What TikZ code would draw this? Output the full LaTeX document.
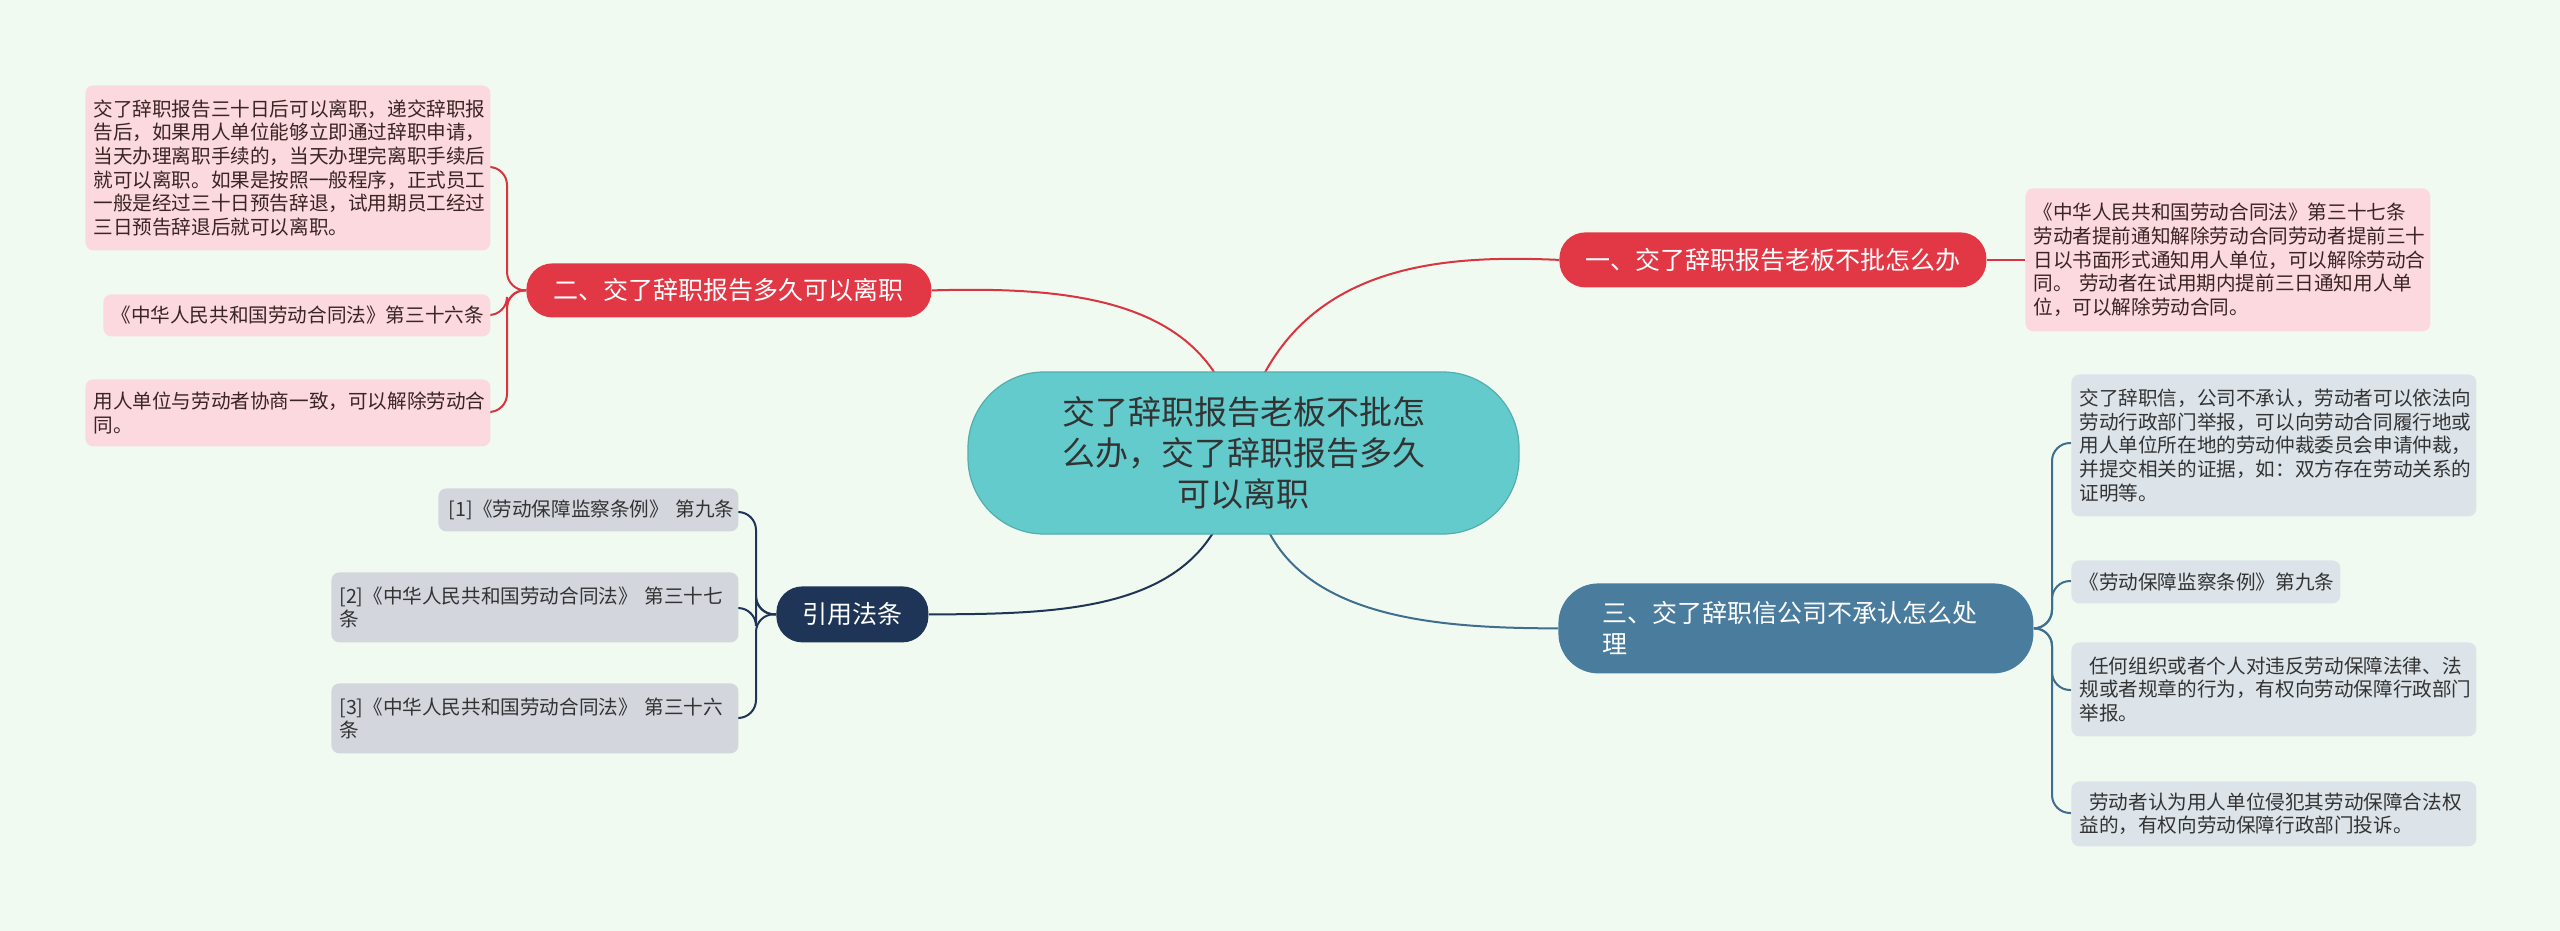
\documentclass[tikz,border=0pt]{standalone}
\usepackage{fontspec}
\setmainfont{Noto Sans CJK SC}
\usetikzlibrary{backgrounds}
\definecolor{bg}{HTML}{F1FAF0}
\definecolor{teal}{HTML}{63CBCC}
\definecolor{redb}{HTML}{E23744}
\definecolor{redl}{HTML}{D9343F}
\definecolor{pinkl}{HTML}{FBD9DE}
\definecolor{blueb}{HTML}{4A7C9E}
\definecolor{bluel}{HTML}{3F6E8F}
\definecolor{bluelf}{HTML}{DCE4EA}
\definecolor{navy}{HTML}{1E3557}
\definecolor{grayl}{HTML}{D3D7DD}
\definecolor{txt}{HTML}{333333}
\definecolor{ptxt}{HTML}{3A2424}
\tikzset{
 leaf/.style={anchor=north west,rounded corners=4pt,inner xsep=4pt,inner ysep=2pt,align=left,
   font=\fontsize{9.8}{11.8}\selectfont},
 pinkleaf/.style={leaf,fill=pinkl,text=ptxt},
 blueleaf/.style={leaf,fill=bluelf,text=txt},
 grayleaf/.style={leaf,fill=grayl,text=txt},
 branch/.style={anchor=north west,rounded corners=13pt,text=white,font=\fontsize{12.5}{15.5}\selectfont},
 conn/.style={line width=1pt},
}
\begin{document}
\begin{tikzpicture}[x=0.5pt,y=-0.5pt]
\useasboundingbox (0,0) rectangle (2560,931);
% nodes
\node[anchor=center,fill=teal,draw=teal!85!black,line width=0.6pt,rounded corners=38pt,minimum width=275.5pt,minimum height=81pt,align=center,font=\fontsize{16.5}{20.5}\selectfont,text=txt] (C) at (1243.5,453) {交了辞职报告老板不批怎\\么办，交了辞职报告多久\\可以离职};
\node[branch,fill=redb,minimum width=213.5pt,minimum height=27.5pt] (B1) at (1559,232) {一、交了辞职报告老板不批怎么办};
\node[branch,fill=redb,minimum width=202.5pt,minimum height=27pt] (B2) at (526,263) {二、交了辞职报告多久可以离职};
\node[branch,fill=blueb,rounded corners=20pt,minimum width=237.5pt,minimum height=45pt,align=left,text width=193pt,inner xsep=22pt] (B3) at (1558,583) {三、交了辞职信公司不承认怎么处\\理};
\node[branch,fill=navy,minimum width=76pt,minimum height=28pt] (B4) at (776,586) {引用法条};
\node[pinkleaf,text width=194.5pt,minimum height=71.5pt] (P1) at (2025,188) {《中华人民共和国劳动合同法》第三十七条\\劳动者提前通知解除劳动合同劳动者提前三十\\日以书面形式通知用人单位，可以解除劳动合\\同。 劳动者在试用期内提前三日通知用人单\\位，可以解除劳动合同。};
\node[pinkleaf,text width=194.5pt,minimum height=82.5pt] (L1) at (85,85) {交了辞职报告三十日后可以离职，递交辞职报\\告后，如果用人单位能够立即通过辞职申请，\\当天办理离职手续的，当天办理完离职手续后\\就可以离职。如果是按照一般程序，正式员工\\一般是经过三十日预告辞退，试用期员工经过\\三日预告辞退后就可以离职。};
\node[pinkleaf,text width=185.5pt,minimum height=21pt,align=right] (L2) at (103,294) {《中华人民共和国劳动合同法》第三十六条};
\node[pinkleaf,text width=194.5pt,minimum height=33.5pt] (L3) at (85,379) {用人单位与劳动者协商一致，可以解除劳动合\\同。};
\node[blueleaf,text width=194.5pt,minimum height=71pt] (R1) at (2071,374) {交了辞职信，公司不承认，劳动者可以依法向\\劳动行政部门举报，可以向劳动合同履行地或\\用人单位所在地的劳动仲裁委员会申请仲裁，\\并提交相关的证据，如：双方存在劳动关系的\\证明等。};
\node[blueleaf,text width=126.5pt,minimum height=21.5pt] (R2) at (2071,560) {《劳动保障监察条例》第九条};
\node[blueleaf,text width=194.5pt,minimum height=47pt] (R3) at (2071,642) {\hspace*{0.5em}任何组织或者个人对违反劳动保障法律、法\\规或者规章的行为，有权向劳动保障行政部门\\举报。};
\node[blueleaf,text width=194.5pt,minimum height=32.5pt] (R4) at (2071,781) {\hspace*{0.5em}劳动者认为用人单位侵犯其劳动保障合法权\\益的，有权向劳动保障行政部门投诉。};
\node[grayleaf,text width=146pt,inner xsep=2pt,minimum height=21.5pt,align=right] (G1) at (438,488) {\mbox{[1]《劳动保障监察条例》 第九条}};
\node[grayleaf,text width=195.5pt,minimum height=35pt] (G2) at (331,572) {[2]《中华人民共和国劳动合同法》 第三十七\\条};
\node[grayleaf,text width=195.5pt,minimum height=35pt] (G3) at (331,683) {[3]《中华人民共和国劳动合同法》 第三十六\\条};
% connectors
\begin{scope}[on background layer]
\fill[bg] (0,0) rectangle (2560,931);
\coordinate (c1) at (1261,380);
\coordinate (c2) at (1219,380);
\coordinate (c3) at (1266,526);
\coordinate (c4) at (1217,526);
\draw[conn,redl] (c1) .. controls (1320,262) and (1450,255) .. (B1.west);
\draw[conn,redl] (c2) .. controls (1170,295) and (1050,287) .. (B2.east);
\draw[conn,bluel] (c3) .. controls (1310,622) and (1450,628) .. (B3.west);
\draw[conn,navy] (c4) .. controls (1170,612) and (1050,614) .. (B4.east);
\draw[conn,redl] (B1.east) -- (P1.west);
\foreach \n/\y in {L1/167,L2/315,L3/412}
  \draw[conn,redl,rounded corners=9pt] (B2.west) -- (507,290) -- (507,\y) -- (\n.east|-0,\y);
\foreach \n/\y in {R1/443,R2/581,R3/690,R4/813}
  \draw[conn,bluel,rounded corners=9pt] (B3.east) -- (2052,628) -- (2052,\y) -- (\n.west|-0,\y);
\foreach \n/\y in {G1/512,G2/608,G3/718}
  \draw[conn,navy,rounded corners=9pt] (B4.west) -- (756,614) -- (756,\y) -- (\n.east|-0,\y);
\end{scope}
\end{tikzpicture}
\end{document}
